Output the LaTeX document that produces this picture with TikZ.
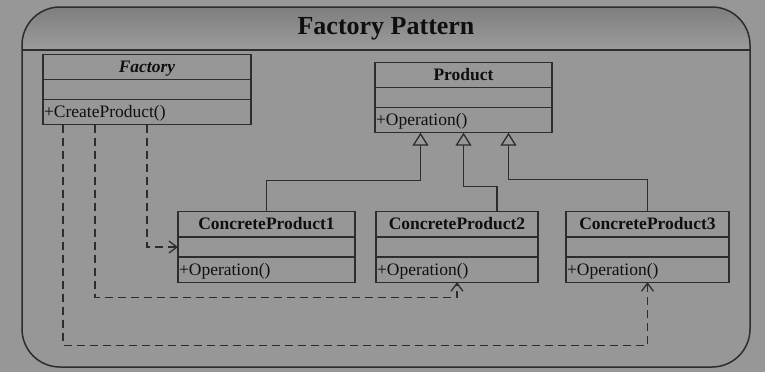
\documentclass[tikz,border=0pt]{standalone}
\usepackage{fontspec}
\setmainfont{Liberation Serif}
\usetikzlibrary{shapes.multipart, arrows.meta, positioning, calc}

\definecolor{bggray}{RGB}{151,151,151}
\definecolor{headtop}{RGB}{126,126,126}
\definecolor{headbot}{RGB}{156,156,156}
\definecolor{linegray}{RGB}{45,45,45}
\definecolor{inkgray}{RGB}{15,15,15}

\newcommand{\rowstrut}{\rule[-6.5pt]{0pt}{24pt}}
\newcommand{\gapstrut}{\rule{0pt}{18.5pt}}

\begin{document}
\begin{tikzpicture}[
    x=1pt, y=-1pt,
    umlclass/.style={rectangle split, rectangle split parts=3, draw=linegray, line width=1.3pt,
        rectangle split part align={center,left,left}, inner xsep=1pt, inner ysep=0pt, outer sep=0pt,
        text=inkgray, font=\fontsize{17.5}{20}\selectfont},
    inherit/.style={-{Triangle[open, length=13pt, width=16pt]}, draw=linegray, line width=1.3pt},
    depend/.style={-{Straight Barb[length=8pt, width=12pt]}, draw=linegray, line width=1.3pt, dash pattern=on 8pt off 5pt}
]
    \useasboundingbox (0,0) rectangle (765,372);
    \fill[bggray] (0,0) rectangle (765,372);

    % frame with shaded title bar
    \begin{scope}
        \clip[rounded corners=38pt] (22,7) rectangle (750,367);
        \shade[top color=headtop, bottom color=headbot] (22,7) rectangle (750,50);
    \end{scope}
    \draw[linegray, line width=1.5pt, rounded corners=38pt] (22,7) rectangle (750,367);
    \draw[linegray, line width=1.5pt] (22,50) -- (750,50);
    \node[font=\fontsize{26}{30}\selectfont\bfseries, text=inkgray, anchor=base] (title) at (386,34) {Factory Pattern};

    \node[umlclass, minimum width=208pt] (factory) at (147,89.5)
        {\rowstrut\textbf{\textit{Factory}}\nodepart{two}\gapstrut\nodepart{three}\rowstrut+CreateProduct()};
    \node[umlclass, minimum width=177pt] (product) at (463.5,97.5)
        {\rowstrut\textbf{Product}\nodepart{two}\gapstrut\nodepart{three}\rowstrut+Operation()};
    \node[umlclass, minimum width=177pt] (cp1) at (266.5,247)
        {\rowstrut\textbf{ConcreteProduct1}\nodepart{two}\gapstrut\nodepart{three}\rowstrut+Operation()};
    \node[umlclass, minimum width=162pt, right=21pt of cp1] (cp2)
        {\rowstrut\textbf{ConcreteProduct2}\nodepart{two}\gapstrut\nodepart{three}\rowstrut+Operation()};
    \node[umlclass, minimum width=163pt, right=28pt of cp2] (cp3)
        {\rowstrut\textbf{ConcreteProduct3}\nodepart{two}\gapstrut\nodepart{three}\rowstrut+Operation()};

    \draw[inherit] (cp1.north) |- ($(product.south)+(-43,48)$) -- ($(product.south)+(-43,0)$);
    \draw[inherit] ($(cp2.north)+(40,0)$) |- ($(product.south)+(0,54)$) -- (product.south);
    \draw[inherit] (cp3.north) |- ($(product.south)+(45,47)$) -- ($(product.south)+(45,0)$);

    \draw[depend] (factory.south) |- (cp1.west);
    \draw[depend] ($(factory.south)+(-52,0)$) |- ($(cp2.south)+(0,15)$) -- (cp2.south);
    \draw[depend] ($(factory.south)+(-84,0)$) |- ($(cp3.south)+(0,63)$) -- (cp3.south);
\end{tikzpicture}
\end{document}
